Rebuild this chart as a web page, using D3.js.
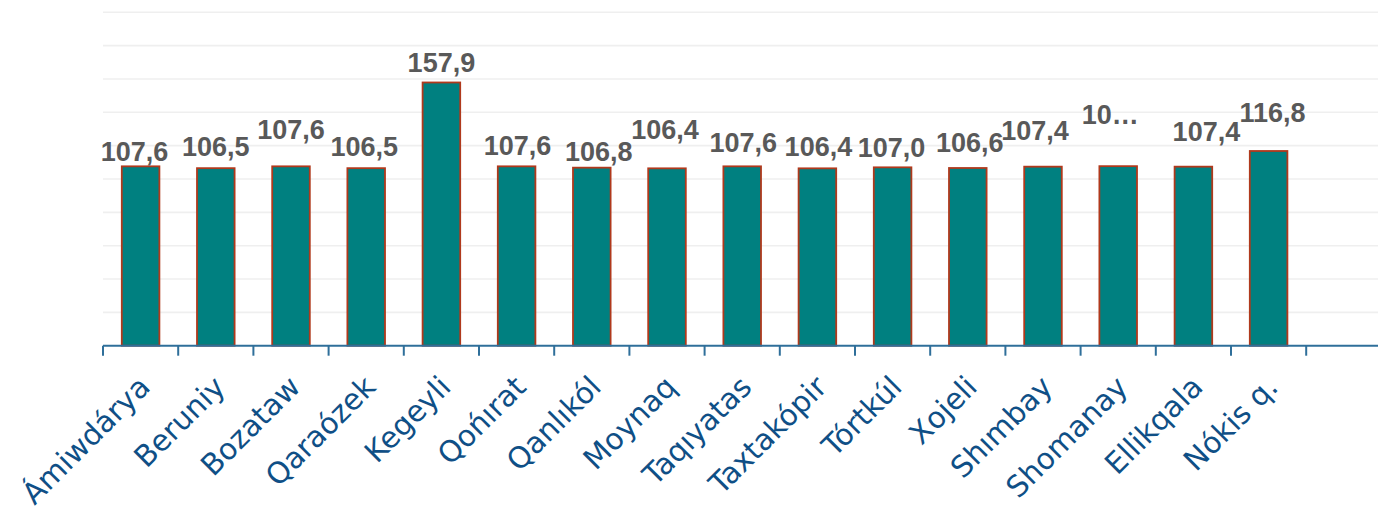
<!DOCTYPE html>
<html>
<head>
<meta charset="utf-8">
<script src="https://cdn.jsdelivr.net/npm/d3@7"></script>
<style>
  html, body { margin: 0; padding: 0; background: #ffffff; }
  svg { display: block; }
</style>
</head>
<body>
<svg id="chart" width="1378" height="510"></svg>
<script>
// Districts (categories) and their index values
const districts = ["Ámiwdárya", "Beruniy", "Bozataw", "Qaraózek", "Kegeyli", "Qońırat", "Qanlıkól", "Moynaq",
                   "Taqıyatas", "Taxtakópir", "Tórtkúl", "Xojeli", "Shımbay", "Shomanay", "Ellikqala", "Nókis q."];
const values = [107.6, 106.5, 107.6, 106.5, 157.9, 107.6, 106.8, 106.4,
                107.6, 106.4, 107.0, 106.6, 107.4, 107.7, 107.4, 116.8];
// Value-axis gridline values
const gridValues = [20, 40, 60, 80, 100, 120, 140, 160, 180, 200];
// Labels that do not fit and are shown shortened
const shortenedLabels = ["Shomanay"];

// Label placement nudges [dx, dy] in px, so neighbouring labels do not collide
const labelNudge = [[-6, 4], [0, -3], [0, -18], [-2, -3], [0, -1], [1, -2], [7, 2], [-2, -20],
                    [1, -5], [1, -3], [-1, -1], [2, -7], [-8, -18], [-8, -33], [13, -17], [4, -20]];

const W = 1378, H = 510;
const plot = { left: 103, top: 12.3, bottom: 345.7, step: 75.2 };
const plotRight = plot.left + plot.step * districts.length;

const svg = d3.select("#chart");

const x = d3.scaleBand().domain(districts).range([plot.left, plotRight]).padding(0);
const y = d3.scaleLinear().domain([0, 200]).range([plot.bottom, plot.top]);

// gridlines
svg.append("g")
  .selectAll("line")
  .data(gridValues)
  .join("line")
  .attr("x1", plot.left).attr("x2", W)
  .attr("y1", d => y(d)).attr("y2", d => y(d))
  .attr("stroke", "#efefef")
  .attr("stroke-width", 1.6);

// bars
const barW = x.bandwidth() * 0.5;
svg.append("g")
  .selectAll("rect")
  .data(values)
  .join("rect")
  .attr("x", (d, i) => x(districts[i]) + (x.bandwidth() - barW) / 2)
  .attr("y", d => y(d))
  .attr("width", barW)
  .attr("height", d => y(0) - y(d))
  .attr("fill", "#008080")
  .attr("stroke", "#b0391c")
  .attr("stroke-width", 1.8);

// category axis
const axisColor = "#2f6f9a";
const axisG = svg.append("g");
axisG.append("line")
  .attr("x1", plot.left).attr("x2", W)
  .attr("y1", plot.bottom).attr("y2", plot.bottom)
  .attr("stroke", axisColor).attr("stroke-width", 2);

const boundaries = districts.map(d => x(d)).concat([plotRight]);
axisG.selectAll("line.tick")
  .data(boundaries)
  .join("line")
  .attr("class", "tick")
  .attr("x1", d => d).attr("x2", d => d)
  .attr("y1", plot.bottom).attr("y2", plot.bottom + 10)
  .attr("stroke", axisColor).attr("stroke-width", 2);

// rotated category labels
axisG.selectAll("text.cat")
  .data(districts)
  .join("text")
  .attr("class", "cat")
  .attr("transform", d => `translate(${x(d) + x.bandwidth() / 2 + 4},${plot.bottom + 36}) rotate(-45)`)
  .attr("text-anchor", "end")
  .attr("dominant-baseline", "central")
  .attr("font-family", "'DejaVu Sans', sans-serif")
  .attr("font-size", 29.5)
  .attr("fill", "#0f4f86")
  .text(d => d);

// data labels
const fmt = v => d3.format(".1f")(v).replace(".", ",");
svg.append("g")
  .selectAll("text")
  .data(values)
  .join("text")
  .attr("x", (d, i) => x(districts[i]) + x.bandwidth() / 2 + labelNudge[i][0])
  .attr("y", (d, i) => y(d) - 9 + labelNudge[i][1])
  .attr("text-anchor", "middle")
  .attr("font-family", "'Liberation Sans', Arial, sans-serif")
  .attr("font-weight", "bold")
  .attr("font-size", 27)
  .attr("fill", "#595959")
  .text((d, i) => shortenedLabels.includes(districts[i]) ? fmt(d).slice(0, 2) + "…" : fmt(d));
</script>
</body>
</html>
